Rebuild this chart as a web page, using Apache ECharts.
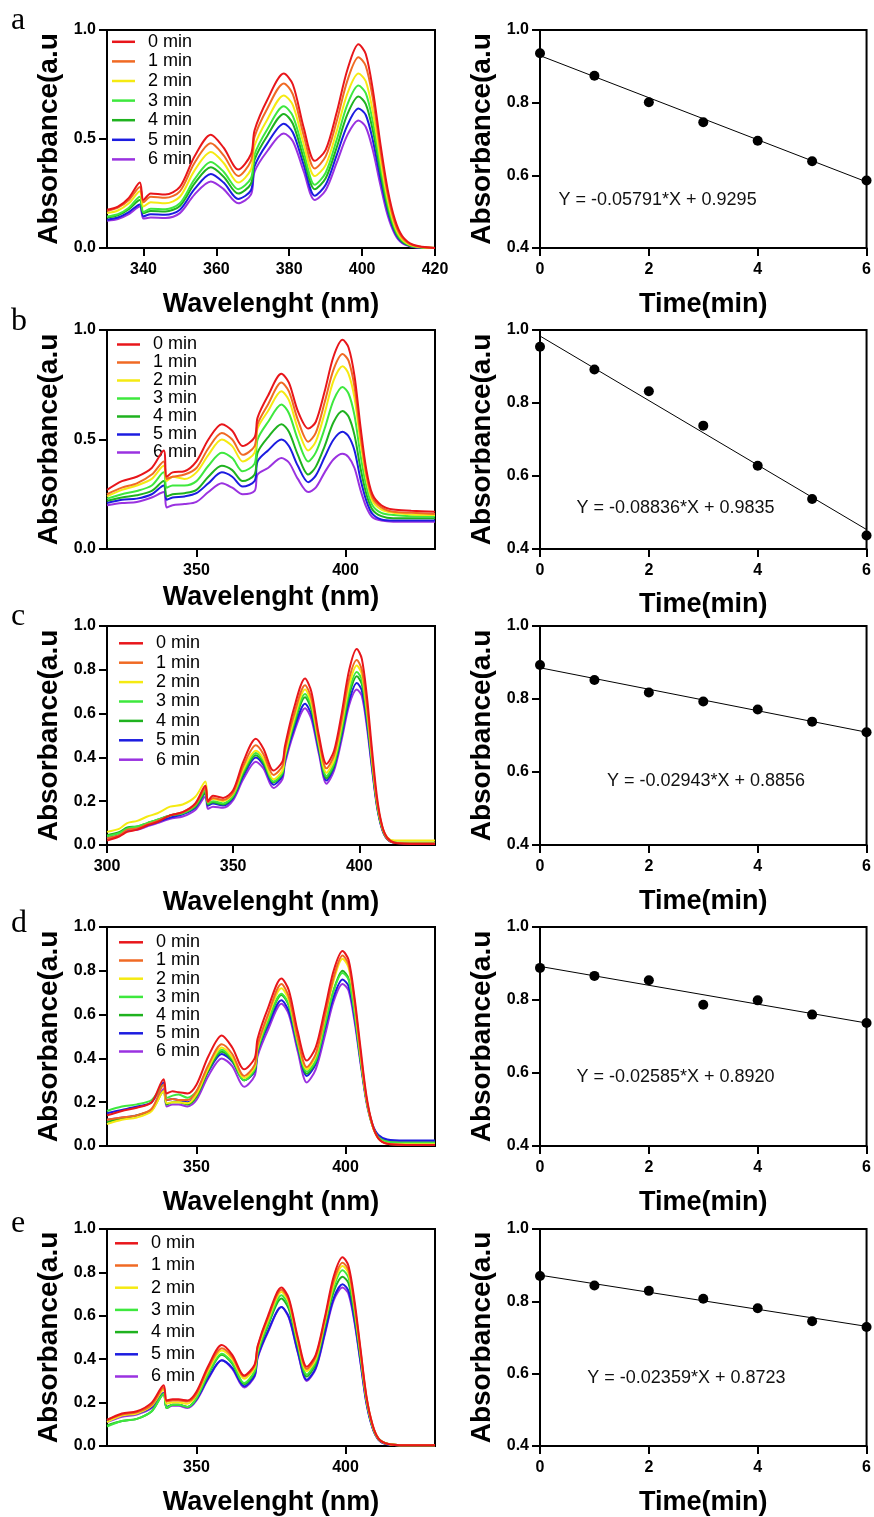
<!DOCTYPE html>
<html><head><meta charset="utf-8">
<script src="https://cdn.jsdelivr.net/npm/echarts@6/dist/echarts.min.js"></script>
<style>html,body{margin:0;padding:0;background:#fff}#c{width:874px;height:1517px}</style>
</head><body><div id="c"></div>
<script>
// ---------- DATA ----------
const seriesNames = ['0 min','1 min','2 min','3 min','4 min','5 min','6 min'];
const times = [0,1,2,3,4,5,6];

// Panel a spectra
const wlA = [330,333,336,339,340,342,346,350,354,358.5,362,366,369.5,370.5,374,378.5,381,384,387,390,393,396,399,401,403,405,407,409,411,414,420];
const absA0 = [.175,.19,.23,.30,.22,.25,.245,.28,.42,.52,.46,.36,.43,.54,.68,.80,.75,.55,.40,.45,.62,.82,.935,.89,.72,.48,.27,.13,.055,.015,0];
const absA1 = [.17,.185,.22,.28,.21,.235,.23,.26,.39,.48,.425,.33,.40,.51,.64,.755,.705,.515,.365,.42,.58,.77,.875,.835,.68,.45,.25,.115,.048,.012,0];
const absA2 = [.16,.172,.205,.26,.19,.21,.205,.235,.355,.44,.39,.30,.36,.47,.59,.70,.655,.475,.33,.38,.535,.71,.80,.765,.62,.41,.225,.10,.04,.01,0];
const absA3 = [.145,.155,.185,.235,.165,.18,.178,.205,.315,.395,.35,.27,.32,.43,.545,.65,.605,.44,.29,.345,.495,.66,.745,.71,.575,.38,.205,.09,.035,.008,0];
const absA4 = [.14,.15,.178,.22,.16,.17,.168,.193,.295,.37,.327,.25,.295,.405,.515,.615,.57,.41,.27,.32,.46,.615,.695,.66,.535,.35,.185,.08,.03,.007,0];
const absA5 = [.13,.14,.165,.20,.145,.155,.152,.176,.27,.34,.30,.225,.265,.375,.48,.57,.53,.38,.24,.29,.425,.565,.64,.61,.49,.32,.17,.072,.026,.006,0];
const absA6 = [.125,.133,.155,.19,.135,.14,.138,.16,.245,.305,.27,.205,.245,.35,.445,.525,.49,.35,.22,.265,.39,.52,.585,.555,.445,.29,.15,.063,.022,.005,0];

// Panel b spectra
const wlB = [320,325,330,335,339,340,342,346,350,354,358.5,362,365.5,369.5,370.5,374,378.5,381,384,387.5,390,393,396,399,401,403,405,407,409,412,416,422,430];
const absB0 = [.27,.31,.33,.37,.45,.33,.35,.355,.40,.50,.57,.54,.47,.51,.60,.70,.80,.76,.63,.55,.58,.72,.88,.955,.92,.79,.56,.36,.25,.20,.18,.175,.17];
const absB1 = [.25,.28,.30,.34,.40,.32,.33,.34,.37,.46,.53,.50,.43,.47,.57,.66,.76,.72,.59,.49,.53,.67,.82,.89,.86,.74,.52,.34,.235,.19,.17,.165,.16];
const absB2 = [.24,.27,.29,.32,.38,.31,.33,.32,.35,.43,.50,.47,.40,.44,.55,.63,.72,.68,.55,.45,.49,.62,.77,.835,.80,.69,.49,.32,.22,.18,.165,.158,.155];
const absB3 = [.23,.25,.265,.29,.35,.28,.29,.29,.31,.38,.44,.415,.355,.39,.50,.58,.66,.62,.50,.40,.44,.55,.68,.74,.71,.61,.43,.285,.20,.165,.155,.15,.15];
const absB4 = [.22,.235,.245,.265,.31,.24,.25,.255,.27,.33,.38,.36,.31,.34,.44,.51,.57,.535,.43,.34,.375,.47,.58,.63,.605,.52,.37,.25,.18,.15,.14,.14,.14];
const absB5 = [.21,.225,.23,.25,.29,.225,.235,.24,.255,.30,.35,.33,.285,.31,.40,.45,.50,.47,.38,.305,.335,.42,.50,.535,.515,.45,.32,.22,.16,.135,.13,.13,.13];
const absB6 = [.20,.21,.215,.235,.26,.19,.20,.205,.215,.26,.30,.28,.25,.265,.34,.37,.415,.395,.32,.26,.28,.35,.41,.435,.42,.37,.27,.19,.145,.13,.125,.125,.125];

// Panel c spectra
const wlC = [300,305,308,312,316,320,325,330,335,339,340,342,346,350,354,359,362,366,369.5,370.5,374,378.5,381,384,387,390,393,396,399,401,403,405,407,409,411,414,420,430];
const absC0 = [.02,.04,.06,.07,.09,.105,.135,.15,.19,.27,.20,.225,.215,.25,.38,.485,.44,.34,.38,.45,.62,.76,.70,.50,.37,.43,.60,.80,.895,.85,.68,.44,.22,.09,.035,.01,.005,.005];
const absC1 = [.03,.045,.07,.075,.095,.11,.135,.15,.185,.26,.195,.215,.205,.24,.36,.455,.415,.32,.36,.43,.59,.73,.67,.48,.35,.41,.57,.76,.845,.80,.64,.41,.20,.085,.03,.01,.008,.008];
const absC2 = [.06,.075,.10,.11,.13,.145,.175,.185,.22,.29,.20,.21,.20,.235,.345,.43,.395,.30,.34,.41,.57,.71,.65,.465,.33,.39,.55,.73,.82,.78,.62,.40,.20,.085,.035,.02,.02,.02];
const absC3 = [.04,.055,.075,.085,.10,.115,.135,.145,.18,.25,.19,.20,.19,.225,.335,.42,.385,.29,.33,.40,.555,.69,.635,.455,.315,.375,.53,.705,.79,.755,.60,.385,.19,.08,.03,.012,.01,.01];
const absC4 = [.045,.06,.08,.085,.10,.115,.135,.145,.175,.24,.185,.195,.185,.22,.325,.41,.375,.285,.325,.395,.545,.675,.62,.445,.305,.365,.515,.685,.77,.735,.585,.375,.185,.078,.03,.012,.01,.01];
const absC5 = [.03,.045,.07,.075,.09,.105,.125,.14,.17,.235,.18,.19,.18,.215,.315,.40,.365,.275,.315,.385,.525,.645,.595,.43,.295,.355,.50,.66,.74,.705,.56,.36,.18,.075,.028,.01,.008,.008];
const absC6 = [.03,.045,.065,.07,.085,.10,.12,.13,.16,.22,.165,.175,.17,.205,.30,.38,.35,.26,.30,.37,.51,.625,.575,.415,.28,.34,.48,.64,.71,.68,.54,.35,.175,.072,.027,.01,.008,.008];

// Panel d spectra
const wlD = [320,325,330,335,339,340,342,344,347,350,354,358.5,362,366,369.5,370.5,374,378.5,381,384,387,390,393,396,399,401,403,405,407,409,411,414,420,430];
const absD0 = [.14,.16,.175,.20,.305,.24,.25,.245,.24,.28,.41,.505,.45,.35,.40,.49,.63,.765,.71,.52,.39,.45,.62,.80,.89,.85,.68,.45,.23,.10,.035,.01,.005,.005];
const absD1 = [.12,.13,.14,.17,.28,.21,.215,.21,.21,.25,.37,.465,.42,.32,.37,.46,.60,.74,.68,.49,.36,.42,.59,.77,.87,.83,.66,.43,.22,.095,.035,.01,.005,.005];
const absD2 = [.10,.12,.13,.16,.25,.195,.20,.20,.195,.235,.355,.45,.405,.31,.36,.45,.59,.72,.665,.48,.35,.41,.58,.755,.855,.815,.65,.42,.215,.095,.035,.012,.008,.008];
const absD3 = [.16,.18,.19,.21,.28,.22,.23,.235,.22,.25,.36,.44,.40,.30,.35,.44,.57,.695,.645,.465,.34,.39,.55,.71,.79,.76,.61,.40,.21,.095,.04,.02,.015,.015];
const absD4 = [.11,.125,.14,.165,.25,.19,.20,.20,.19,.225,.345,.43,.39,.30,.345,.435,.565,.69,.64,.46,.33,.385,.545,.71,.80,.765,.615,.40,.21,.095,.04,.02,.015,.015];
const absD5 = [.15,.165,.18,.20,.29,.21,.215,.21,.20,.23,.34,.42,.385,.30,.34,.43,.55,.665,.615,.45,.32,.375,.53,.68,.76,.73,.59,.39,.21,.10,.05,.03,.025,.025];
const absD6 = [.12,.13,.14,.165,.26,.18,.19,.19,.18,.21,.32,.40,.365,.27,.32,.41,.53,.65,.60,.43,.29,.35,.50,.66,.74,.71,.57,.38,.20,.095,.045,.025,.02,.02];

// Panel e spectra
const wlE = [320,325,330,335,339,340,342,344,347,350,354,358.5,362,366,369.5,370.5,374,378.5,381,384,387,390,393,396,399,401,403,405,407,409,411,414,420,430];
const absE0 = [.12,.15,.16,.20,.28,.21,.215,.215,.21,.25,.37,.465,.42,.325,.375,.46,.60,.73,.68,.50,.365,.42,.59,.78,.87,.83,.67,.45,.23,.10,.035,.01,.003,.003];
const absE1 = [.12,.145,.155,.19,.27,.205,.21,.21,.205,.24,.36,.45,.41,.32,.37,.455,.59,.72,.67,.49,.355,.41,.58,.76,.845,.81,.65,.44,.225,.10,.035,.01,.003,.003];
const absE2 = [.11,.14,.15,.185,.26,.195,.20,.20,.195,.235,.35,.44,.40,.31,.36,.445,.58,.71,.66,.48,.345,.40,.57,.745,.83,.795,.64,.43,.22,.095,.033,.01,.003,.003];
const absE3 = [.09,.115,.125,.16,.24,.175,.19,.19,.18,.22,.335,.425,.385,.29,.345,.43,.565,.695,.645,.47,.33,.39,.56,.73,.81,.775,.625,.42,.215,.095,.035,.01,.003,.003];
const absE4 = [.095,.115,.125,.16,.24,.175,.19,.19,.18,.22,.33,.42,.38,.285,.34,.425,.555,.68,.63,.46,.32,.38,.55,.71,.78,.75,.605,.41,.21,.09,.033,.01,.003,.003];
const absE5 = [.115,.14,.15,.18,.245,.18,.19,.19,.18,.215,.315,.395,.36,.275,.325,.41,.53,.64,.595,.435,.305,.36,.52,.68,.745,.715,.58,.39,.20,.085,.03,.008,.003,.003];
const absE6 = [.11,.135,.145,.175,.24,.175,.185,.185,.175,.21,.31,.395,.355,.27,.32,.405,.525,.64,.59,.43,.30,.355,.51,.67,.73,.70,.57,.385,.195,.085,.03,.008,.003,.003];

// Kinetics (absorbance at ~399 nm vs time)
const kinA = [0.936,0.874,0.801,0.746,0.695,0.639,0.586];
const kinB = [0.954,0.892,0.832,0.738,0.628,0.537,0.437];
const kinC = [0.893,0.852,0.818,0.793,0.771,0.738,0.709];
const kinD = [0.888,0.866,0.854,0.787,0.799,0.760,0.737];
const kinE = [0.870,0.844,0.829,0.807,0.781,0.745,0.729];

// Linear fits (endpoints at t=0 and t=6) and equations
const fitStart = [0.9295,0.9835,0.8856,0.8920,0.8723];
const fitEnd   = [0.5820,0.4533,0.7090,0.7369,0.7308];
const equations = ['Y = -0.05791*X + 0.9295','Y = -0.08836*X + 0.9835','Y = -0.02943*X + 0.8856','Y = -0.02585*X + 0.8920','Y = -0.02359*X + 0.8723'];

// Axis tick labels
const wlTicksA = [340,360,380,400,420];
const wlTicksB = [350,400];
const wlTicksC = [300,350,400];
const wlTicksD = [350,400];
const wlTicksE = [350,400];
const panelLetters = ['a','b','c','d','e'];

// ---------- BUILD ----------
const colors = ['#e8161b','#f06a24','#f5ea12','#3ee83e','#1fb21f','#1c1ce0','#9a32e0'];
const FONT = '"Liberation Sans", Arial, sans-serif';
const wls = [wlA,wlB,wlC,wlD,wlE];
const specs = [[absA0,absA1,absA2,absA3,absA4,absA5,absA6],[absB0,absB1,absB2,absB3,absB4,absB5,absB6],[absC0,absC1,absC2,absC3,absC4,absC5,absC6],[absD0,absD1,absD2,absD3,absD4,absD5,absD6],[absE0,absE1,absE2,absE3,absE4,absE5,absE6]];
const kins = [kinA,kinB,kinC,kinD,kinE];
const wlTicks = [wlTicksA,wlTicksB,wlTicksC,wlTicksD,wlTicksE];
const xMin = [330,320,300,320,320], xMax = [420,430,430,430,430];
const yInt = [0.5,0.5,0.2,0.2,0.2];

const tops = [30,330,626,927,1229];
const hts = [218,219,219,219,218];
const xNameGapL = [43,35,44,43,43];
const xNameGapR = [43,42,43,43,43];
const legLeft = [112,117,119,119,115];
const legTop = [32,335.5,633.6,933.2,1232.2];
const legLH = [19.6,17,19.4,18.2,22.2];
const legW = [23,23,24,24,23];
const eqPos = [[2.16,0.532],[2.49,0.513],[3.05,0.574],[2.49,0.59],[2.69,0.587]];
const letterBase = [30,331,626,933,1233];

const grid=[], xAxis=[], yAxis=[], series=[], legend=[], graphic=[];
const lineAx = {show:true, lineStyle:{color:'#000', width:2}};
const tickAx = {show:true, inside:false, length:8, lineStyle:{color:'#000', width:2}};
const lblX = {color:'#000', fontSize:16, fontWeight:'bold', fontFamily:FONT, margin:14};
const lblY = {color:'#000', fontSize:16, fontWeight:'bold', fontFamily:FONT, margin:11};
const xNameStyle = {color:'#000', fontSize:27, fontWeight:'bold', fontFamily:FONT};
const yNameStyle = {color:'#000', fontSize:28, fontWeight:'bold', fontFamily:FONT};

for (let p=0;p<5;p++){
  grid.push({left:107, width:328, top:tops[p], height:hts[p], show:true, borderColor:'#000', borderWidth:2, backgroundColor:'transparent'});
}
for (let p=0;p<5;p++){
  grid.push({left:540, width:328, top:tops[p], height:hts[p], show:true, borderColor:'#000', borderWidth:2, backgroundColor:'transparent'});
}
for (let p=0;p<5;p++){
  xAxis.push({type:'value', gridIndex:p, min:xMin[p], max:xMax[p], name:'Wavelenght (nm)', nameLocation:'middle', nameGap:xNameGapL[p], nameTextStyle:xNameStyle,
    axisLine:lineAx, axisTick:Object.assign({customValues:wlTicks[p]},tickAx), axisLabel:Object.assign({customValues:wlTicks[p]},lblX), splitLine:{show:false}});
  yAxis.push({type:'value', gridIndex:p, min:0, max:1, interval:yInt[p], name:'Absorbance(a.u', nameLocation:'middle', nameGap:44, nameTextStyle:yNameStyle,
    axisLine:lineAx, axisTick:tickAx, axisLabel:Object.assign({formatter:v=>v.toFixed(1)},lblY), splitLine:{show:false}});
}
for (let p=0;p<5;p++){
  xAxis.push({type:'value', gridIndex:5+p, min:0, max:6, interval:2, name:'Time(min)', nameLocation:'middle', nameGap:xNameGapR[p], nameTextStyle:xNameStyle,
    axisLine:lineAx, axisTick:tickAx, axisLabel:lblX, splitLine:{show:false}});
  yAxis.push({type:'value', gridIndex:5+p, min:0.4, max:1, interval:0.2, name:'Absorbance(a.u', nameLocation:'middle', nameGap:44, nameTextStyle:yNameStyle,
    axisLine:lineAx, axisTick:tickAx, axisLabel:Object.assign({formatter:v=>v.toFixed(1)},lblY), splitLine:{show:false}});
}
for (let p=0;p<5;p++){
  for (let s=0;s<7;s++){
    series.push({type:'line', name:seriesNames[s], xAxisIndex:p, yAxisIndex:p, data:wls[p].map((w,i)=>[w,specs[p][s][i]]),
      showSymbol:false, symbol:'none', smooth:0.3, z:10-s, lineStyle:{width:2,color:colors[s]}, itemStyle:{color:colors[s]}, emphasis:{disabled:true}, animation:false});
  }
  legend.push({orient:'vertical', left:legLeft[p], top:legTop[p], data:seriesNames, icon:'rect', itemWidth:legW[p], itemHeight:2.5, itemGap:0,
    selectedMode:false, padding:0, textStyle:{fontSize:18, lineHeight:legLH[p], color:'#000', fontFamily:FONT, padding:[0,0,0,8]}});
  series.push({type:'line', name:'fit'+p, xAxisIndex:5+p, yAxisIndex:5+p, data:[[0,fitStart[p]],[6,fitEnd[p]]], symbol:'none', lineStyle:{color:'#000',width:1}, z:3, animation:false});
  series.push({type:'scatter', name:'pts'+p, xAxisIndex:5+p, yAxisIndex:5+p, data:times.map((t,i)=>[t,kins[p][i]]), symbolSize:10, itemStyle:{color:'#000', opacity:1, borderWidth:0}, emphasis:{disabled:true}, clip:false, z:5, animation:false});
  series.push({type:'scatter', name:'eq'+p, xAxisIndex:5+p, yAxisIndex:5+p, data:[eqPos[p]], symbolSize:1, itemStyle:{color:'rgba(0,0,0,0)'}, silent:true,
    label:{show:true, position:'inside', formatter:equations[p], color:'#111', opacity:1, fontSize:18, fontFamily:FONT}, animation:false});
  graphic.push({type:'text', x:11, y:letterBase[p]+7, style:{text:panelLetters[p], font:'32px "Liberation Serif", "Times New Roman", serif', fill:'#000', verticalAlign:'bottom'}});
}

const chart = echarts.init(document.getElementById('c'), null, {renderer:'canvas'});
chart.setOption({backgroundColor:'#fff', animation:false, grid, xAxis, yAxis, series, legend, graphic});
</script></body></html>
